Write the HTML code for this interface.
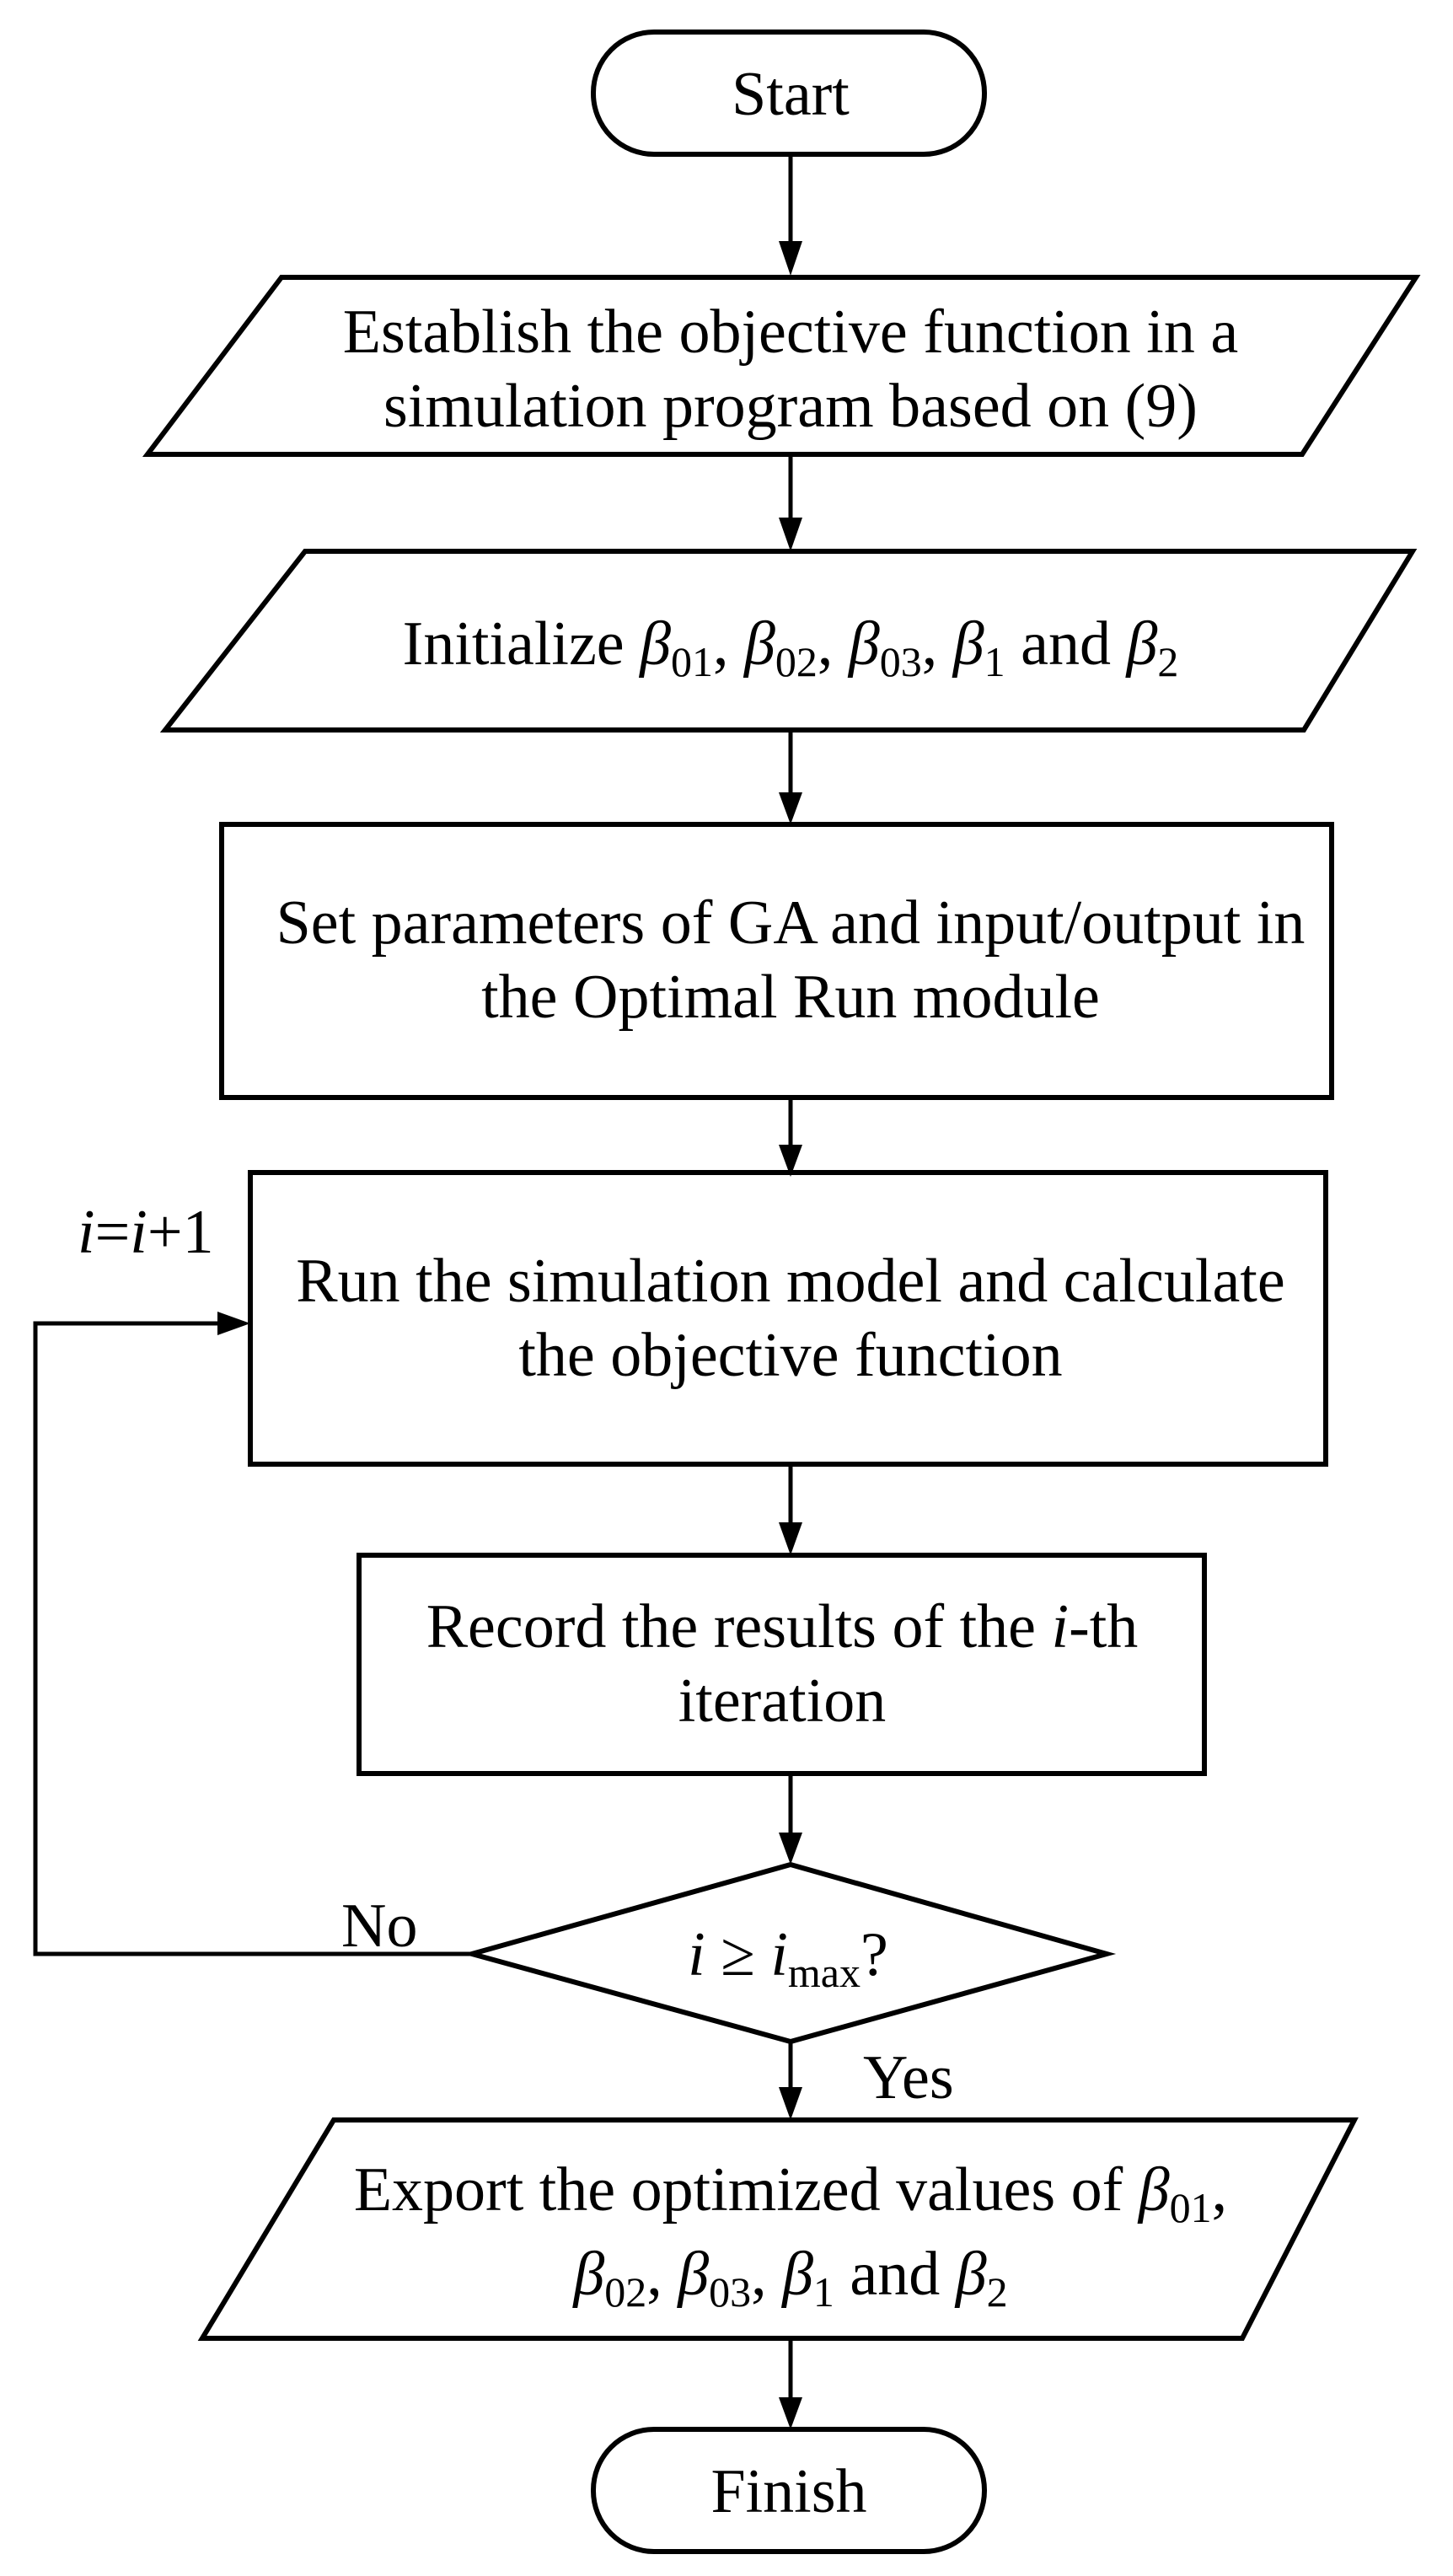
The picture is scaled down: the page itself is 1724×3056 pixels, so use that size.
<!DOCTYPE html>
<html><head><meta charset="utf-8"><style>
html,body{margin:0;padding:0;background:#fff}
svg{display:block}
text{font-family:"Liberation Serif",serif;font-size:74px;fill:#000}
.s{font-size:50px}
</style></head><body>
<svg width="1724" height="3056" viewBox="0 0 1724 3056" xmlns="http://www.w3.org/2000/svg">
<g fill="none" stroke="#000" stroke-width="6">
<rect x="704" y="38" width="464" height="145" rx="72" ry="72"/>
<polygon points="334,329 1680,329 1545,539 175,539"/>
<polygon points="362,654 1676,654 1547,866 196,866"/>
<rect x="263" y="978" width="1317" height="324"/>
<rect x="297" y="1391" width="1276" height="346"/>
<rect x="426" y="1845" width="1003" height="259"/>
<polygon points="938,2212 1313,2318 938,2422 560,2318"/>
<polygon points="396,2515 1607,2515 1474,2774 240,2774"/>
<rect x="704" y="2882" width="464" height="145" rx="72" ry="72"/>
<g stroke-width="5">
<line x1="938" y1="183" x2="938" y2="290"/>
<line x1="938" y1="539" x2="938" y2="620"/>
<line x1="938" y1="866" x2="938" y2="948"/>
<line x1="938" y1="1302" x2="938" y2="1366"/>
<line x1="938" y1="1737" x2="938" y2="1816"/>
<line x1="938" y1="2104" x2="938" y2="2184"/>
<line x1="938" y1="2422" x2="938" y2="2480"/>
<line x1="938" y1="2774" x2="938" y2="2854"/>
<polyline points="560,2318 42,2318 42,1570 262,1570"/>
</g>
</g>
<g fill="#000">
<path d="M924,286 L952,286 L938,327 z"/>
<path d="M924,614 L952,614 L938,654 z"/>
<path d="M924,940 L952,940 L938,978 z"/>
<path d="M924,1358 L952,1358 L938,1396 z"/>
<path d="M924,1806 L952,1806 L938,1845 z"/>
<path d="M924,2174 L952,2174 L938,2212 z"/>
<path d="M924,2476 L952,2476 L938,2515 z"/>
<path d="M924,2844 L952,2844 L938,2882 z"/>
<path d="M258,1556 L297,1570 L258,1584 z"/>
</g>
<g text-anchor="middle">
<text x="938" y="136">Start</text>
<text x="938" y="418">Establish the objective function in a</text>
<text x="938" y="506">simulation program based on (9)</text>
<text x="938" y="788">Initialize <tspan font-style="italic">β</tspan><tspan class="s" dy="14">01</tspan><tspan dy="-14">, </tspan><tspan font-style="italic">β</tspan><tspan class="s" dy="14">02</tspan><tspan dy="-14">, </tspan><tspan font-style="italic">β</tspan><tspan class="s" dy="14">03</tspan><tspan dy="-14">, </tspan><tspan font-style="italic">β</tspan><tspan class="s" dy="14">1</tspan><tspan dy="-14"> and </tspan><tspan font-style="italic">β</tspan><tspan class="s" dy="14">2</tspan></text>
<text x="938" y="1119">Set parameters of GA and input/output in</text>
<text x="938" y="1207">the Optimal Run module</text>
<text x="938" y="1544">Run the simulation model and calculate</text>
<text x="938" y="1632">the objective function</text>
<text x="928" y="1954">Record the results of the <tspan font-style="italic">i</tspan>-th</text>
<text x="928" y="2042">iteration</text>
<text x="935" y="2343"><tspan font-style="italic">i</tspan> ≥ <tspan font-style="italic">i</tspan><tspan class="s" dy="14">max</tspan><tspan dy="-14">?</tspan></text>
<text x="938" y="2622">Export the optimized values of <tspan font-style="italic">β</tspan><tspan class="s" dy="14">01</tspan><tspan dy="-14">,</tspan></text>
<text x="938" y="2722"><tspan font-style="italic">β</tspan><tspan class="s" dy="14">02</tspan><tspan dy="-14">, </tspan><tspan font-style="italic">β</tspan><tspan class="s" dy="14">03</tspan><tspan dy="-14">, </tspan><tspan font-style="italic">β</tspan><tspan class="s" dy="14">1</tspan><tspan dy="-14"> and </tspan><tspan font-style="italic">β</tspan><tspan class="s" dy="14">2</tspan></text>
<text x="936" y="2980">Finish</text>
</g>
<text x="92" y="1486"><tspan font-style="italic">i</tspan>=<tspan font-style="italic">i</tspan>+1</text>
<text x="405" y="2309">No</text>
<text x="1024" y="2489">Yes</text>
</svg>
</body></html>
